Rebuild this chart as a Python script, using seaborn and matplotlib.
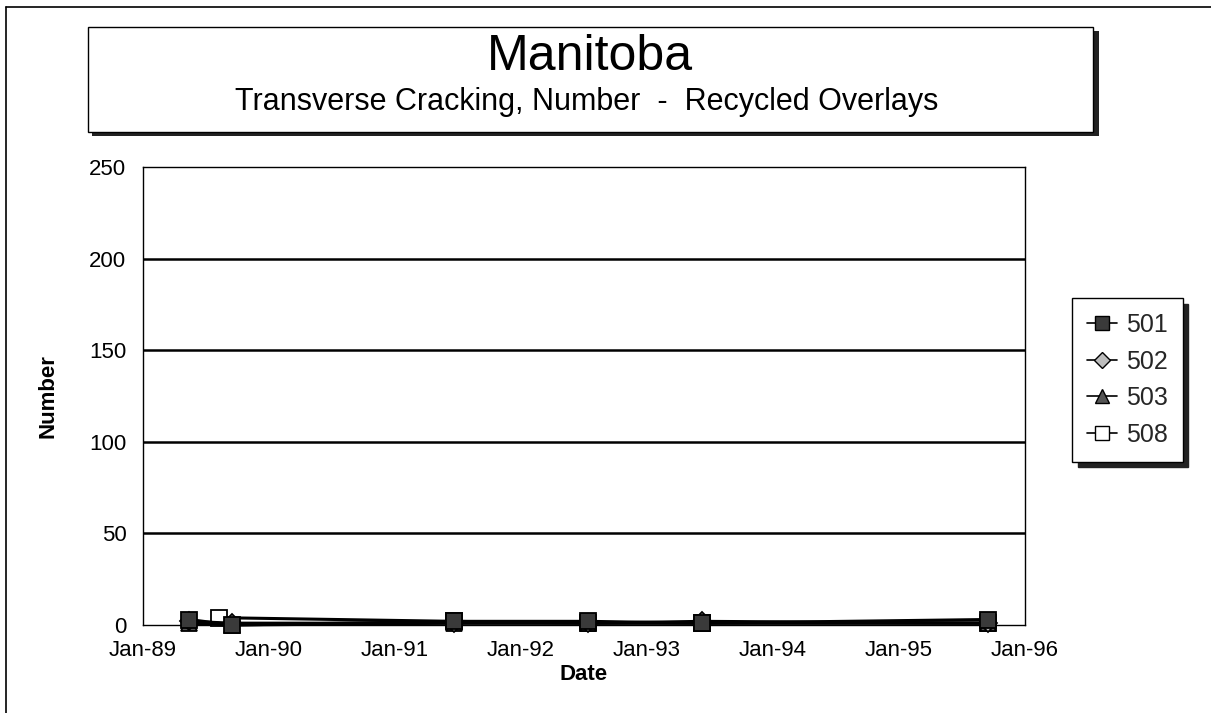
import matplotlib
matplotlib.use("Agg")
import matplotlib.pyplot as plt
from matplotlib.patches import Rectangle
from matplotlib.lines import Line2D
import seaborn as sns
import pandas as pd

# ---- data ----
series_names = ["501", "502", "503", "508"]
dates_501 = ["1989-05-15", "1989-09-15", "1991-06-20", "1992-07-15", "1993-06-10", "1995-09-15"]
values_501 = [3, 0, 2, 2, 1, 3]
dates_502 = ["1989-05-15", "1989-09-15", "1991-06-20", "1992-07-15", "1993-06-10", "1995-09-15"]
values_502 = [2, 1, 1, 1, 2, 1]
dates_503 = ["1989-05-15", "1989-09-15", "1991-06-20", "1992-07-15", "1993-06-10", "1995-09-15"]
values_503 = [1, 0, 1, 1, 1, 1]
dates_508 = ["1989-08-10", "1991-06-20", "1992-07-15", "1993-06-10", "1995-09-15"]
values_508 = [4, 2, 1, 1, 1]
x_tick_labels = ["Jan-89", "Jan-90", "Jan-91", "Jan-92", "Jan-93", "Jan-94", "Jan-95", "Jan-96"]
y_ticks = [0, 50, 100, 150, 200, 250]

title = "Manitoba"
subtitle = "Transverse Cracking, Number  -  Recycled Overlays"

sns.set_style("white")
plt.rcParams["font.family"] = ["Liberation Sans", "DejaVu Sans"]

W, H = 1211, 713
fig = plt.figure(figsize=(W / 100, H / 100), dpi=100)
ax = fig.add_axes([143 / W, 1 - 625 / H, (1025 - 143) / W, (625 - 167) / H])

styles = {
    "501": dict(marker="s", mfc="#3a3a3a", ms=11),
    "502": dict(marker="D", mfc="#bdbdbd", ms=9),
    "503": dict(marker="^", mfc="#555555", ms=11),
    "508": dict(marker="s", mfc="white", ms=11),
}
data = {
    "501": (dates_501, values_501),
    "502": (dates_502, values_502),
    "503": (dates_503, values_503),
    "508": (dates_508, values_508),
}
order = ["508", "503", "502", "501"]
for name in order:
    d, v = data[name]
    df = pd.DataFrame({"Date": pd.to_datetime(d), "Number": v})
    st = styles[name]
    sns.lineplot(data=df, x="Date", y="Number", ax=ax, color="black", linewidth=2.2,
                 marker=st["marker"], markersize=st["ms"], markerfacecolor=st["mfc"],
                 markeredgecolor="black", markeredgewidth=1.3, zorder=3, clip_on=False)

tick_dates = pd.to_datetime([f"19{89 + i}-01-01" for i in range(len(x_tick_labels))])
ax.set_xlim(tick_dates[0], tick_dates[-1])
ax.set_xticks(tick_dates)
ax.set_xticklabels(x_tick_labels)
ax.set_ylim(0, 250)
ax.set_yticks(y_ticks)
ax.set_yticklabels([str(t) for t in y_ticks])

for t in y_ticks[1:-1]:
    ax.axhline(t, color="black", linewidth=1.8, zorder=1)

for s in ax.spines.values():
    s.set_visible(True)
    s.set_color("black")
    s.set_linewidth(1.0)

ax.tick_params(axis="x", direction="in", length=5, width=1, color="black",
               labelsize=16, pad=11, labelcolor="black")
ax.tick_params(axis="y", length=0, labelsize=16, pad=12, labelcolor="black")
ax.set_xlabel("Date", fontsize=16, fontweight="bold", labelpad=2, color="black")
ax.set_ylabel("Number", fontsize=16, fontweight="bold", labelpad=22, color="black")

# legend
handles = [Line2D([0], [0], color="black", linewidth=1.2, marker=styles[n]["marker"],
                  markersize=styles[n]["ms"] - 1, markerfacecolor=styles[n]["mfc"],
                  markeredgecolor="black") for n in series_names]
leg = ax.legend(handles, series_names, loc="upper left",
                bbox_to_anchor=(1072 / W, 1 - 298 / H), bbox_transform=fig.transFigure,
                frameon=True, fancybox=False, shadow={"ox": 4, "oy": -4, "color": "#222222", "alpha": 1},
                fontsize=18, handlelength=1.2, handletextpad=0.35, labelspacing=0.5,
                borderpad=0.6, borderaxespad=0)
leg.get_frame().set_edgecolor("black")
leg.get_frame().set_linewidth(1.0)

# title box
fig.patches.append(Rectangle((92 / W, 1 - 136 / H), (1095 - 88) / W, (132 - 27) / H,
                             transform=fig.transFigure, facecolor="#222222", edgecolor="none", zorder=0))
fig.patches.append(Rectangle((88 / W, 1 - 132 / H), (1093 - 88) / W, (132 - 27) / H,
                             transform=fig.transFigure, facecolor="white", edgecolor="black",
                             linewidth=1.0, zorder=1))
fig.text(590 / W, 1 - 57 / H, title, ha="center", va="center", fontsize=36, color="black")
fig.text(587 / W, 1 - 102 / H, subtitle, ha="center", va="center", fontsize=22, color="black")

# outer frame
fig.add_artist(Line2D([6 / W, 6 / W], [0, 1 - 7 / H], transform=fig.transFigure, color="black", linewidth=1.2))
fig.add_artist(Line2D([6 / W, 1], [1 - 7 / H, 1 - 7 / H], transform=fig.transFigure, color="black", linewidth=1.2))

fig.savefig("out.png", dpi=100)
